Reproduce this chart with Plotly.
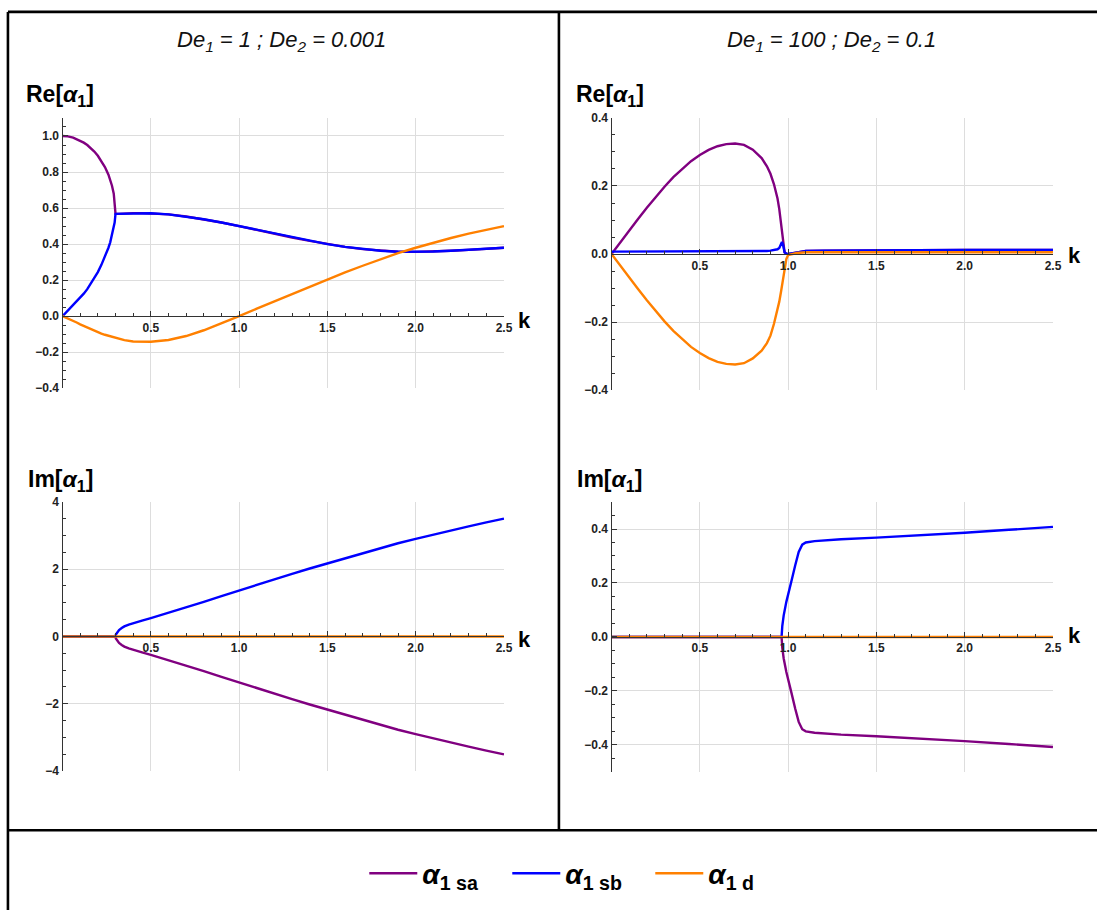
import plotly.graph_objects as go

W, H = 1105, 917

# ---------------- Data: De1 = 1 ; De2 = 0.001 ----------------
k_re_a = [0, 0.03, 0.06, 0.08, 0.1, 0.12, 0.14, 0.16, 0.18, 0.2, 0.22, 0.24, 0.26, 0.27,
          0.28, 0.29, 0.295, 0.3,
          0.32, 0.35, 0.4, 0.45, 0.5, 0.6, 0.7, 0.8, 0.9, 1.0, 1.1, 1.2, 1.3, 1.4,
          1.5, 1.6, 1.7, 1.8, 1.9, 2.0, 2.1, 2.2, 2.3, 2.4, 2.5]
re_sa_a = [1.0, 0.998, 0.991, 0.983, 0.975, 0.963, 0.95, 0.933, 0.914, 0.89, 0.862, 0.828,
           0.785, 0.757, 0.724, 0.68, 0.64, 0.568,
           0.568, 0.57, 0.572, 0.572, 0.571, 0.565, 0.553, 0.538, 0.52, 0.50, 0.478, 0.457,
           0.437, 0.418, 0.40, 0.385, 0.372, 0.363, 0.358, 0.357, 0.359, 0.363, 0.368, 0.374, 0.38]
re_sb_a = [0.0, 0.03, 0.06, 0.08, 0.10, 0.125, 0.15, 0.18, 0.21, 0.245, 0.285, 0.33,
           0.38, 0.41, 0.45, 0.49, 0.52, 0.568,
           0.568, 0.57, 0.572, 0.572, 0.571, 0.565, 0.553, 0.538, 0.52, 0.50, 0.478, 0.457,
           0.437, 0.418, 0.40, 0.385, 0.372, 0.363, 0.358, 0.357, 0.359, 0.363, 0.368, 0.374, 0.38]
re_d_a = [0.0, -0.012, -0.025, -0.035, -0.045, -0.054, -0.063, -0.072, -0.08, -0.088,
          -0.096, -0.103, -0.109, -0.112, -0.115, -0.118, -0.119, -0.121,
          -0.126, -0.133, -0.14, -0.143, -0.142, -0.132, -0.11, -0.078, -0.04,
          0.0, 0.042, 0.083, 0.124, 0.164, 0.205, 0.243, 0.28, 0.316, 0.35, 0.38, 0.408,
          0.434, 0.458, 0.48, 0.50]

k_im_a = [0, 0.1, 0.2, 0.3, 0.302, 0.31, 0.32, 0.335, 0.35, 0.375, 0.4, 0.45, 0.5, 0.6, 0.7,
          0.8, 0.9, 1.0, 1.1, 1.2, 1.3, 1.4, 1.5, 1.6, 1.7, 1.8, 1.9, 2.0, 2.1, 2.2, 2.3,
          2.4, 2.5]
im_sb_a = [0, 0, 0, 0, 0.06, 0.134, 0.19, 0.25, 0.30, 0.355, 0.40, 0.47, 0.545, 0.70, 0.86,
           1.03, 1.20, 1.37, 1.53, 1.70, 1.86, 2.02, 2.17, 2.33, 2.48, 2.63, 2.77, 2.90,
           3.03, 3.15, 3.27, 3.39, 3.50]
im_sa_a = [-v for v in im_sb_a]
im_d_a = [0] * len(k_im_a)

# ---------------- Data: De1 = 100 ; De2 = 0.1 ----------------
k_re_b = [0, 0.05, 0.1, 0.15, 0.2, 0.25, 0.3, 0.35, 0.4, 0.45, 0.5, 0.55, 0.6, 0.65, 0.7,
          0.75, 0.8, 0.85, 0.88, 0.9, 0.92, 0.94, 0.95, 0.96, 0.965, 0.97, 0.975, 0.98,
          0.99, 1.0, 1.02, 1.05, 1.1, 1.2, 1.5, 2.0, 2.5]
re_sa_b = [0, 0.035, 0.068, 0.103, 0.136, 0.168, 0.198, 0.226, 0.251, 0.273, 0.291, 0.306,
           0.317, 0.323, 0.325, 0.321, 0.307, 0.282, 0.258, 0.236, 0.205, 0.163, 0.132,
           0.09, 0.055, 0.032, 0.015, 0.005, 0.001, 0.0, 0.002, 0.005, 0.009, 0.01, 0.011,
           0.012, 0.012]
re_sb_b = [0.007, 0.007, 0.007, 0.007, 0.007, 0.007, 0.007, 0.007, 0.007, 0.007, 0.007,
           0.007, 0.007, 0.007, 0.007, 0.007, 0.008, 0.008, 0.009, 0.01, 0.011, 0.014,
           0.018, 0.027, 0.035, 0.03, 0.015, 0.005, 0.001, 0.0, 0.002, 0.005, 0.009, 0.01,
           0.011, 0.012, 0.012]
re_d_b = [0, -0.035, -0.068, -0.103, -0.136, -0.168, -0.198, -0.226, -0.251, -0.273, -0.291,
          -0.306, -0.317, -0.323, -0.325, -0.321, -0.307, -0.284, -0.262, -0.24, -0.205,
          -0.165, -0.14, -0.11, -0.092, -0.075, -0.058, -0.04, -0.015, -0.003, 0.0, 0.003,
          0.005, 0.005, 0.005, 0.005, 0.005]

k_im_b = [0, 0.5, 0.963, 0.967, 0.975, 0.99, 1.0, 1.02, 1.04, 1.06, 1.08, 1.1, 1.15, 1.2,
          1.3, 1.5, 1.75, 2.0, 2.25, 2.5]
im_sb_b = [0, 0, 0, 0.04, 0.08, 0.13, 0.16, 0.21, 0.265, 0.315, 0.342, 0.35, 0.355, 0.358,
           0.362, 0.368, 0.376, 0.386, 0.397, 0.408]
im_sa_b = [-v for v in im_sb_b]
im_d_b = [0] * len(k_im_b)

series_names = ["<b><i>α</i><sub>1 sa</sub></b>", "<b><i>α</i><sub>1 sb</sub></b>",
                "<b><i>α</i><sub>1 d</sub></b>"]
panel_titles = ["<i>De<sub>1</sub> = 1 ; De<sub>2</sub> = 0.001</i>",
                "<i>De<sub>1</sub> = 100 ; De<sub>2</sub> = 0.1</i>"]
x_ticks = [0.5, 1.0, 1.5, 2.0, 2.5]
y_ticks_re_a = [-0.4, -0.2, 0.0, 0.2, 0.4, 0.6, 0.8, 1.0]
y_ticks_re_b = [-0.4, -0.2, 0.0, 0.2, 0.4]
y_ticks_im_a = [-4, -2, 0, 2, 4]
y_ticks_im_b = [-0.4, -0.2, 0.0, 0.2, 0.4]

colors = ["#800080", "#0000ff", "#ff8000"]

fig = go.Figure()


def px(x):
    return x / W


def py(y):
    return 1 - y / H


panels = [
    ("", (63, 508), (112.7, 387.2), [-0.4, 1.1], y_ticks_re_a, 0.05, ".1f",
     k_re_a, [re_sa_a, re_sb_a, re_d_a]),
    ("2", (616, 1061), (112.7, 389.0), [-0.4, 0.4], y_ticks_re_b, 0.05, ".1f",
     k_re_b, [re_sa_b, re_sb_b, re_d_b]),
    ("3", (63, 508), (502.5, 776.0), [-4, 4], y_ticks_im_a, 0.5, "d",
     k_im_a, [im_sa_a, im_sb_a, im_d_a]),
    ("4", (616, 1061), (502.7, 776.7), [-0.5, 0.5], y_ticks_im_b, 0.05, ".1f",
     k_im_b, [im_sa_b, im_sb_b, im_d_b]),
]

tickfont = dict(family="Liberation Sans, Arial, sans-serif", size=12, color="#222222",
                weight="bold")

for i, (suf, xs, ys, yr, yt, ymin, yfmt, kk, vals) in enumerate(panels):
    xd = [px(xs[0]), px(xs[1])]
    yd = [py(ys[1]), py(ys[0])]
    pos = yd[0] + (0 - yr[0]) / (yr[1] - yr[0]) * (yd[1] - yd[0])
    for j, v in enumerate(vals):
        fig.add_trace(go.Scatter(
            x=kk, y=v, mode="lines", name=series_names[j],
            line=dict(color=colors[j], width=2.4),
            xaxis="x" + suf, yaxis="y" + suf,
            legendgroup=str(j), showlegend=(i == 0), hoverinfo="skip"))
    fig.layout["xaxis" + suf] = dict(
        domain=xd, range=[0, 2.502], anchor="free", position=pos,
        showline=True, linecolor="#333333", linewidth=1.3,
        tickmode="array", tickvals=x_ticks, tickformat=".1f",
        ticks="inside", ticklen=5, tickcolor="#333333", tickwidth=1,
        minor=dict(tickmode="linear", tick0=0, dtick=0.1, ticks="inside", ticklen=3,
                   tickcolor="#333333", showgrid=False),
        showgrid=True, gridcolor="#dddddd", gridwidth=1, zeroline=False,
        tickfont=tickfont, fixedrange=True)
    fig.layout["yaxis" + suf] = dict(
        domain=yd, range=yr, anchor="x" + suf,
        showline=True, linecolor="#333333", linewidth=1.3,
        tickmode="array", tickvals=yt, tickformat=yfmt,
        ticks="inside", ticklen=5, tickcolor="#333333", tickwidth=1,
        minor=dict(tickmode="linear", tick0=0, dtick=ymin, ticks="inside", ticklen=3,
                   tickcolor="#333333", showgrid=False),
        showgrid=True, gridcolor="#dddddd", gridwidth=1, zeroline=False,
        tickfont=tickfont, fixedrange=True)

annotations = []
label_font = dict(family="Liberation Sans, Arial, sans-serif", size=23, color="black",
                  weight="bold")
for txt, cx in zip(panel_titles, [284, 838]):
    annotations.append(dict(x=px(cx), y=py(35), xref="paper", yref="paper", text=txt,
                            showarrow=False, xanchor="center", yanchor="middle",
                            font=dict(family="Liberation Sans, Arial, sans-serif",
                                      size=22, color="#111111")))
for txt, lx, ly in [("Re[<i>α</i><sub>1</sub>]", 24, 90), ("Re[<i>α</i><sub>1</sub>]", 578, 90),
                    ("Im[<i>α</i><sub>1</sub>]", 26, 481), ("Im[<i>α</i><sub>1</sub>]", 579, 481)]:
    annotations.append(dict(x=px(lx), y=py(ly), xref="paper", yref="paper", text=txt,
                            showarrow=False, xanchor="left", yanchor="middle", font=label_font))
for kx, ky in [(528, 318), (1082, 252), (528, 642), (1082, 638)]:
    annotations.append(dict(x=px(kx), y=py(ky), xref="paper", yref="paper", text="k",
                            showarrow=False, xanchor="center", yanchor="middle",
                            font=dict(family="Liberation Sans, Arial, sans-serif", size=22,
                                      color="black", weight="bold")))

shapes = []
bw = 2.6
for x0, y0, x1, y1 in [(8, 5, W, 5), (8, 5, 8, H), (563, 5, 563, 836), (8, 836, W, 836)]:
    shapes.append(dict(type="line", xref="paper", yref="paper",
                       x0=px(x0), y0=py(y0), x1=px(x1), y1=py(y1),
                       line=dict(color="black", width=bw)))

fig.update_layout(
    width=W, height=H, margin=dict(l=0, r=0, t=0, b=0),
    paper_bgcolor="white", plot_bgcolor="white",
    annotations=annotations, shapes=shapes,
    showlegend=True,
    legend=dict(orientation="h", x=px(583), xanchor="center", y=py(880), yanchor="middle",
                font=dict(family="Liberation Sans, Arial, sans-serif", size=28, color="black"),
                itemwidth=48, entrywidth=80, entrywidthmode="pixels",
                bgcolor="rgba(0,0,0,0)", tracegroupgap=0),
)

fig.write_html("out.html", config={"displayModeBar": False},
               post_script="document.body.style.margin='0';document.body.style.overflow='hidden';")
